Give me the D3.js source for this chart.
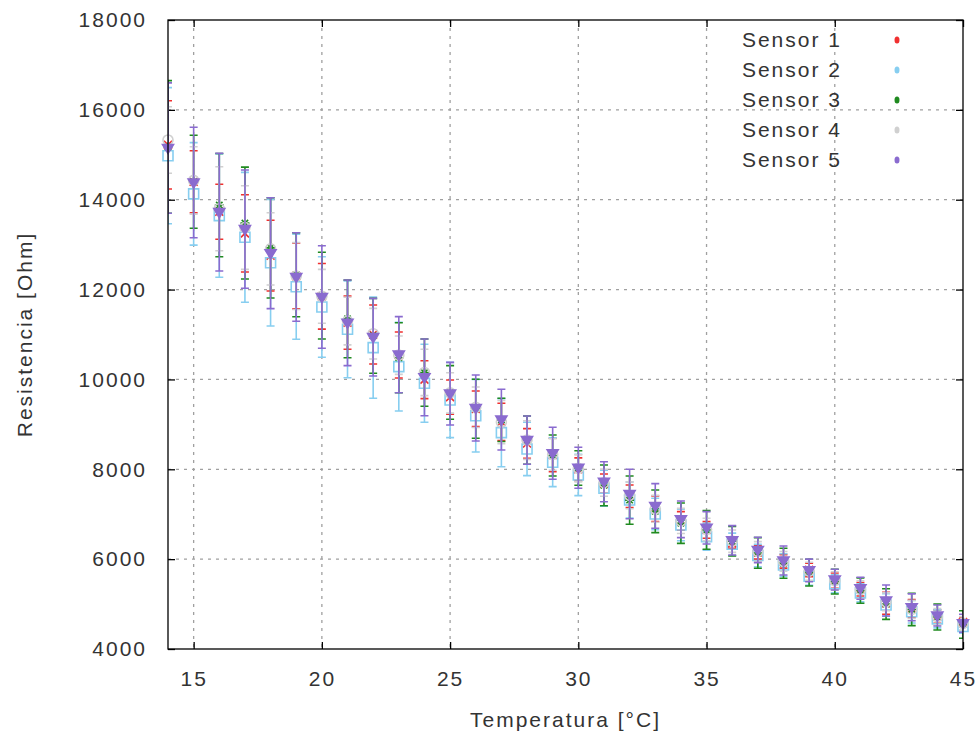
<!DOCTYPE html>
<html>
<head>
<meta charset="utf-8">
<script src="https://cdn.jsdelivr.net/npm/d3@7"></script>
<style>
  html, body { margin: 0; padding: 0; background: #fff; }
  svg text { font-family: "Liberation Sans", Arial, sans-serif; fill: #333; }
</style>
</head>
<body>
<svg id="chart" width="979" height="740"></svg>
<script>
// Temperatures (°C) at which each sensor was read
const temps = [14,15,16,17,18,19,20,21,22,23,24,25,26,27,28,29,30,31,32,33,34,35,36,37,38,39,40,41,42,43,44,45];

// Mean resistance (Ohm) and its error, per sensor
const s1Values = [15221,14400,13731,13250,12755,12300,11850,11264,11000,10544,9995,9606,9346,9053,8575,8318,8000,7681,7400,7120,6850,6650,6350,6150,5950,5760,5520,5330,5018,4900,4720,4600];
const s1Errors = [982,690,612,860,787,730,730,593,656,512,422,382,397,416,330,372,253,215,250,286,207,184,110,150,150,150,170,150,245,200,150,100];

const s2Values = [14980,14130,13645,13163,12598,12064,11612,11116,10707,10285,9914,9542,9193,8815,8452,8156,7873,7577,7317,7005,6761,6500,6330,6080,5870,5620,5450,5250,4980,4830,4670,4500];
const s2Errors = [1514,1140,1372,1446,1409,1171,1120,1077,1127,987,868,838,808,757,594,543,460,400,400,350,350,300,250,250,250,200,200,200,250,250,200,150];

const s3Values = [15174,14400,13880,13480,12928,12331,11865,11349,10971,10484,10151,9710,9347,9100,8649,8307,8030,7643,7314,7065,6800,6650,6400,6138,5908,5700,5500,5300,5000,4880,4712,4546];
const s3Errors = [1476,1035,1150,1245,1117,935,965,865,834,779,749,597,657,480,537,456,384,453,538,475,450,431,330,340,334,297,275,282,340,360,290,307];

const s4Values = [15330,14430,13800,13380,12906,12300,11850,11300,11018,10540,10155,9700,9380,9050,8650,8330,8020,7700,7420,7120,6850,6660,6400,6170,5950,5730,5520,5320,5050,4880,4720,4570];
const s4Errors = [740,750,935,930,805,744,600,530,563,427,516,450,450,480,430,350,300,300,300,300,280,250,250,220,220,200,200,200,200,200,180,150];

const s5Values = [15150,14383,13724,13345,12810,12280,11835,11260,10941,10551,10046,9683,9364,9105,8649,8356,8033,7724,7450,7183,6886,6697,6419,6204,5970,5749,5544,5351,5080,4928,4746,4572];
const s5Errors = [1450,1230,1310,1317,1235,986,1142,953,864,846,853,697,734,675,537,578,456,445,550,497,408,360,326,282,322,251,230,245,345,298,234,200];

const sensorNames = ["Sensor 1","Sensor 2","Sensor 3","Sensor 4","Sensor 5"];
const sensorColors = ["#f03030","#87cef0","#1f8a1f","#d0d0d0","#8a6bcf"];
const sensorMarkers = ["cross","square","star","circle","triangleDown"];

const xTicks = [15,20,25,30,35,40,45];
const yTicks = [4000,6000,8000,10000,12000,14000,16000,18000];

const xTitle = "Temperatura [°C]";
const yTitle = "Resistencia [Ohm]";

// ---- layout ----
const svg = d3.select("#chart");
const plotLeft = 168, plotRight = 963, plotTop = 20, plotBottom = 649;

const x = d3.scaleLinear().domain([14, 45]).range([plotLeft, plotRight]);
const y = d3.scaleLinear().domain([4000, 18000]).range([plotBottom, plotTop]);

const series = [
  { values: s1Values, errors: s1Errors },
  { values: s2Values, errors: s2Errors },
  { values: s3Values, errors: s3Errors },
  { values: s4Values, errors: s4Errors },
  { values: s5Values, errors: s5Errors }
].map((s, i) => ({
  name: sensorNames[i], color: sensorColors[i], marker: sensorMarkers[i],
  points: temps.map((t, j) => ({ t, v: s.values[j], e: s.errors[j] }))
}));

// ---- grid ----
const grid = svg.append("g").attr("stroke", "#a0a0a0").attr("stroke-width", 1.3)
  .attr("stroke-dasharray", "3,5");
grid.selectAll("line.gx").data(xTicks.filter(t => t < 45)).enter().append("line")
  .attr("x1", d => x(d)).attr("x2", d => x(d)).attr("y1", plotTop).attr("y2", plotBottom);
grid.selectAll("line.gy").data(yTicks.filter(t => t > 4000 && t < 18000)).enter().append("line")
  .attr("x1", plotLeft).attr("x2", plotRight).attr("y1", d => y(d)).attr("y2", d => y(d));

// ---- axes (inward ticks, mirrored on top/right) ----
const tickLen = 7;
const axisStyle = g => {
  g.select(".domain").remove();
  g.selectAll(".tick line").attr("stroke", "#000").attr("stroke-width", 1.3);
  g.selectAll(".tick text").attr("font-size", 21).attr("letter-spacing", "2px")
    .attr("fill", "#333").attr("font-family", "Liberation Sans, Arial, sans-serif");
};
svg.append("g").attr("transform", `translate(0,${plotBottom})`)
  .call(d3.axisBottom(x).tickValues(xTicks).tickFormat(d3.format("d")).tickSizeInner(-tickLen).tickPadding(22))
  .call(axisStyle);
svg.append("g").attr("transform", `translate(${plotLeft},0)`)
  .call(d3.axisLeft(y).tickValues(yTicks).tickFormat(d3.format("d")).tickSizeInner(-tickLen).tickPadding(21))
  .call(axisStyle);
svg.append("g").attr("transform", `translate(0,${plotTop})`)
  .call(d3.axisTop(x).tickValues(xTicks).tickFormat("").tickSizeInner(-tickLen))
  .call(axisStyle);
svg.append("g").attr("transform", `translate(${plotRight},0)`)
  .call(d3.axisRight(y).tickValues(yTicks).tickFormat("").tickSizeInner(-tickLen))
  .call(axisStyle);

// ---- error bars (clipped to the plot frame) ----
svg.append("defs").append("clipPath").attr("id", "plotClip")
  .append("rect").attr("x", plotLeft).attr("y", plotTop)
  .attr("width", plotRight - plotLeft).attr("height", plotBottom - plotTop);

const cap = 4;
const symbolPath = (type) => {
  switch (type) {
    case "cross": return "M-4,-4L4,4M-4,4L4,-4";
    case "square": return "M-5,-5H5V5H-5Z";
    case "star": return "M-4.5,0H4.5M0,-4.5V4.5M-3.2,-3.2L3.2,3.2M-3.2,3.2L3.2,-3.2";
    case "circle": return "M5,0A5,5 0 1,1 -5,0A5,5 0 1,1 5,0Z";
    case "triangleDown": return "M-5.5,-3.5L5.5,-3.5L0,5.5Z";
  }
};

series.forEach(s => {
  const g = svg.append("g");
  const bars = g.append("g").attr("clip-path", "url(#plotClip)")
    .attr("stroke", s.color).attr("stroke-width", 1.6).attr("fill", "none");
  bars.selectAll("path").data(s.points).enter().append("path")
    .attr("d", d => {
      const xc = x(d.t), y1 = y(d.v + d.e), y0 = y(d.v - d.e);
      return `M${xc},${y1}V${y0}M${xc - cap},${y1}H${xc + cap}M${xc - cap},${y0}H${xc + cap}`;
    });
  const filled = s.marker === "triangleDown";
  g.append("g").selectAll("path").data(s.points).enter().append("path")
    .attr("transform", d => `translate(${x(d.t)},${y(d.v)})`)
    .attr("d", symbolPath(s.marker))
    .attr("fill", filled ? s.color : "none")
    .attr("stroke", s.color).attr("stroke-width", 1.6);
});

// ---- frame ----
svg.append("rect").attr("x", plotLeft).attr("y", plotTop)
  .attr("width", plotRight - plotLeft).attr("height", plotBottom - plotTop)
  .attr("fill", "none").attr("stroke", "#000").attr("stroke-width", 1.3);

// ---- legend ----
const legend = svg.append("g");
series.forEach((s, i) => {
  const ly = 40 + i * 30;
  legend.append("text").attr("x", 842).attr("y", ly).attr("dy", "0.35em")
    .attr("text-anchor", "end").attr("font-size", 21).attr("letter-spacing", "2px").text(s.name);
  legend.append("ellipse").attr("cx", 897).attr("cy", ly).attr("rx", 2.5).attr("ry", 3.5)
    .attr("fill", s.color);
});

// ---- axis titles ----
svg.append("text").attr("x", (plotLeft + plotRight) / 2).attr("y", 720).attr("dy", "0.35em")
  .attr("text-anchor", "middle").attr("font-size", 21).attr("letter-spacing", "2px").text(xTitle);
svg.append("text").attr("transform", `translate(25,${(plotTop + plotBottom) / 2}) rotate(-90)`)
  .attr("dy", "0.35em").attr("text-anchor", "middle").attr("font-size", 21)
  .attr("letter-spacing", "2px").text(yTitle);
</script>
</body>
</html>
